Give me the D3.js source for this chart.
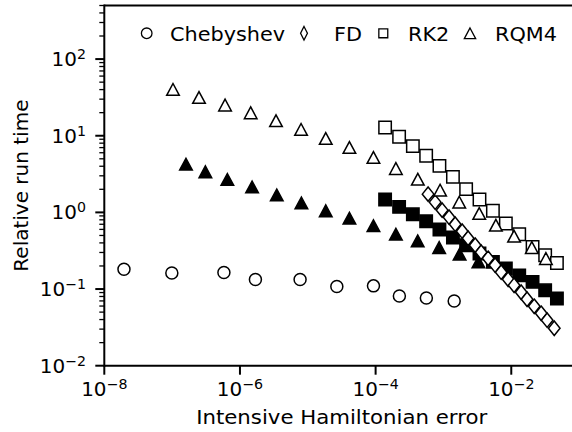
<!DOCTYPE html>
<html>
<head>
<meta charset="utf-8">
<script src="https://cdn.jsdelivr.net/npm/d3@7"></script>
<style>
body { margin: 0; background: #fff; }
svg { display: block; }
text { font-family: "DejaVu Sans", sans-serif; fill: #000; }
</style>
</head>
<body>
<svg width="572" height="432"></svg>
<script>
// Chebyshev (open circles)
var chebX = [1.95e-8, 9.9e-8, 5.8e-7, 1.69e-6, 7.7e-6, 2.68e-5, 9.3e-5, 2.24e-4, 5.6e-4, 1.44e-3];
var chebY = [0.181, 0.162, 0.164, 0.133, 0.133, 0.108, 0.110, 0.081, 0.0765, 0.070];

// FD (open diamonds)
var fdX = [5.94e-4, 7.55e-4, 9.57e-4, 1.21e-3, 1.49e-3, 1.89e-3, 2.31e-3, 2.94e-3, 3.60e-3, 4.56e-3,
           5.78e-3, 7.10e-3, 8.99e-3, 1.10e-2, 1.40e-2, 1.71e-2, 2.18e-2, 2.76e-2, 3.38e-2, 4.30e-2];
var fdY = [1.73, 1.36, 1.07, 0.865, 0.701, 0.569, 0.460, 0.373, 0.302, 0.252,
           0.205, 0.166, 0.134, 0.112, 0.0908, 0.0736, 0.0596, 0.0483, 0.0392, 0.0308];

// RK2 (squares, open and filled share the same x)
var rk2X = [1.38e-4, 2.22e-4, 3.54e-4, 5.56e-4, 8.73e-4, 1.38e-3, 2.16e-3, 3.40e-3, 5.36e-3, 8.32e-3,
            1.31e-2, 2.06e-2, 3.16e-2, 4.71e-2];
var rk2OpenY = [12.8, 9.68, 7.31, 5.47, 4.05, 2.91, 2.01, 1.47, 1.05, 0.716, 0.519, 0.355, 0.276, 0.219];
var rk2FillY = [1.47, 1.18, 0.946, 0.767, 0.598, 0.470, 0.373, 0.291, 0.226, 0.185, 0.151, 0.124, 0.0964, 0.0752];

// RQM4 (triangles)
var rqmOpenX = [1.03e-7, 2.49e-7, 6.03e-7, 1.44e-6, 3.40e-6, 7.96e-6, 1.84e-5, 4.11e-5, 9.29e-5,
                1.99e-4, 4.19e-4, 8.93e-4, 1.71e-3, 3.37e-3, 5.93e-3, 1.10e-2, 2.01e-2, 3.24e-2];
var rqmOpenY = [40.2, 31.6, 25.1, 19.9, 15.7, 12.1, 9.22, 7.03, 5.21, 3.74, 2.71, 1.95, 1.36, 0.968,
                0.681, 0.489, 0.348, 0.250];
var rqmFillX = [1.60e-7, 3.09e-7, 6.52e-7, 1.51e-6, 3.49e-6, 8.05e-6, 1.84e-5, 4.11e-5, 9.29e-5,
                1.99e-4, 4.17e-4, 8.65e-4, 1.73e-3, 3.28e-3];
var rqmFillY = [4.26, 3.38, 2.69, 2.15, 1.69, 1.33, 1.05, 0.840, 0.670, 0.519, 0.425, 0.348, 0.285, 0.226];

var xTickExp = [-8, -6, -4, -2];
var yTickExp = [-2, -1, 0, 1, 2];
var legendNames = ["Chebyshev", "FD", "RK2", "RQM4"];

var svg = d3.select("svg");

var x = d3.scaleLog().domain([1e-8, 1e-1]).range([104.3, 579.1]);
var y = d3.scaleLog().domain([1e-2, 500]).range([365.7, 5.5]);

// marker shapes
function circlePath(r) {
  return "M" + r + ",0A" + r + "," + r + " 0 1,1 " + (-r) + ",0A" + r + "," + r + " 0 1,1 " + r + ",0Z";
}
var shapes = {
  circle: function(s) { return circlePath(6 * s); },
  square: function(s) { var h = 6.2 * s; return "M" + (-h) + "," + (-h) + "H" + h + "V" + h + "H" + (-h) + "Z"; },
  diamond: function(s, w) { var hw = (w || 5.8) * s, hh = 7.2 * s; return "M0," + (-hh) + "L" + hw + ",0L0," + hh + "L" + (-hw) + ",0Z"; },
  triangle: function(s) { var hw = 6.3 * s, hh = 5.9 * s; return "M0," + (-hh) + "L" + hw + "," + hh + "L" + (-hw) + "," + hh + "Z"; }
};

var plot = svg.append("g");

function drawSeries(xs, ys, shape, fill) {
  plot.append("g").selectAll("path")
    .data(xs.map(function(d, i) { return [d, ys[i]]; }))
    .enter().append("path")
    .attr("transform", function(d) { return "translate(" + x(d[0]) + "," + y(d[1]) + ")"; })
    .attr("d", shapes[shape](1))
    .attr("fill", fill)
    .attr("stroke", "#000")
    .attr("stroke-width", 1.5);
}

drawSeries(chebX, chebY, "circle", "#fff");
drawSeries(rk2X, rk2FillY, "square", "#000");
drawSeries(rqmFillX, rqmFillY, "triangle", "#000");
drawSeries(fdX, fdY, "diamond", "#fff");
drawSeries(rk2X, rk2OpenY, "square", "#fff");
drawSeries(rqmOpenX, rqmOpenY, "triangle", "#fff");

// spines
var axes = svg.append("g").attr("stroke", "#000").attr("fill", "none");
axes.append("line").attr("x1", x.range()[0]).attr("x2", x.range()[1])
  .attr("y1", y.range()[0]).attr("y2", y.range()[0]).attr("stroke-width", 2);
axes.append("line").attr("x1", x.range()[0]).attr("x2", x.range()[1])
  .attr("y1", y.range()[1]).attr("y2", y.range()[1]).attr("stroke-width", 2);
axes.append("line").attr("x1", x.range()[0]).attr("x2", x.range()[0])
  .attr("y1", y.range()[0] + 1).attr("y2", y.range()[1] - 1).attr("stroke-width", 2);

// y ticks
var x0 = x.range()[0];
var minorY = y.ticks().filter(function(v) {
  var e = Math.log10(v); return Math.abs(e - Math.round(e)) > 1e-6;
});
axes.selectAll(".ymin").data(minorY).enter().append("line")
  .attr("x1", x0 - 5).attr("x2", x0)
  .attr("y1", function(d) { return y(d); }).attr("y2", function(d) { return y(d); })
  .attr("stroke-width", 1.3);
axes.selectAll(".ymaj").data(yTickExp).enter().append("line")
  .attr("x1", x0 - 9).attr("x2", x0)
  .attr("y1", function(d) { return y(Math.pow(10, d)); }).attr("y2", function(d) { return y(Math.pow(10, d)); })
  .attr("stroke-width", 2);

var y0 = y.range()[0];
axes.selectAll(".xmaj").data(xTickExp).enter().append("line")
  .attr("y1", y0).attr("y2", y0 + 9)
  .attr("x1", function(d) { return x(Math.pow(10, d)); }).attr("x2", function(d) { return x(Math.pow(10, d)); })
  .attr("stroke-width", 2);

// text slightly wider than tall, like the reference
function place(px, py, sx) {
  return "translate(" + px + "," + py + ") scale(" + sx + ",1)";
}

function powLabel(sel, e) {
  sel.append("tspan").text("10");
  sel.append("tspan").attr("dy", -7).style("font-size", "13.5px").text(String(e).replace("-", "\u2212"));
}

svg.selectAll(".ylab").data(yTickExp).enter().append("text")
  .attr("transform", function(d) { return place(86, y(Math.pow(10, d)) + 7, 1.05); })
  .attr("text-anchor", "end").style("font-size", "19px")
  .each(function(d) { powLabel(d3.select(this), d); });

svg.selectAll(".xlab").data(xTickExp).enter().append("text")
  .attr("transform", function(d) { return place(x(Math.pow(10, d)), 396, 1.05); })
  .attr("text-anchor", "middle").style("font-size", "19px")
  .each(function(d) { powLabel(d3.select(this), d); });

svg.append("text")
  .attr("transform", place((x.range()[0] + x.range()[1]) / 2, 423.5, 1.12))
  .attr("text-anchor", "middle").style("font-size", "19px")
  .text("Intensive Hamiltonian error");

svg.append("text")
  .attr("transform", "translate(28," + (y.range()[0] + y.range()[1]) / 2 + ") rotate(-90)")
  .attr("text-anchor", "middle").style("font-size", "20px")
  .text("Relative run time");

// legend
var legMarkX = [146.7, 304, 383.3, 470];
var legTextX = [170, 334, 408, 495];
var legShapes = [circlePath(5.3), shapes.diamond(0.95, 3.6), shapes.square(0.72), shapes.triangle(0.9)];
var leg = svg.append("g");
leg.selectAll("path").data(legShapes).enter().append("path")
  .attr("transform", function(d, i) { return "translate(" + legMarkX[i] + ",33.3)"; })
  .attr("d", function(d) { return d; })
  .attr("fill", "#fff").attr("stroke", "#000").attr("stroke-width", 1.3);
leg.selectAll("text").data(legendNames).enter().append("text")
  .attr("transform", function(d, i) { return place(legTextX[i], 40.5, 1.04); })
  .style("font-size", "20px")
  .text(function(d) { return d; });
</script>
</body>
</html>
